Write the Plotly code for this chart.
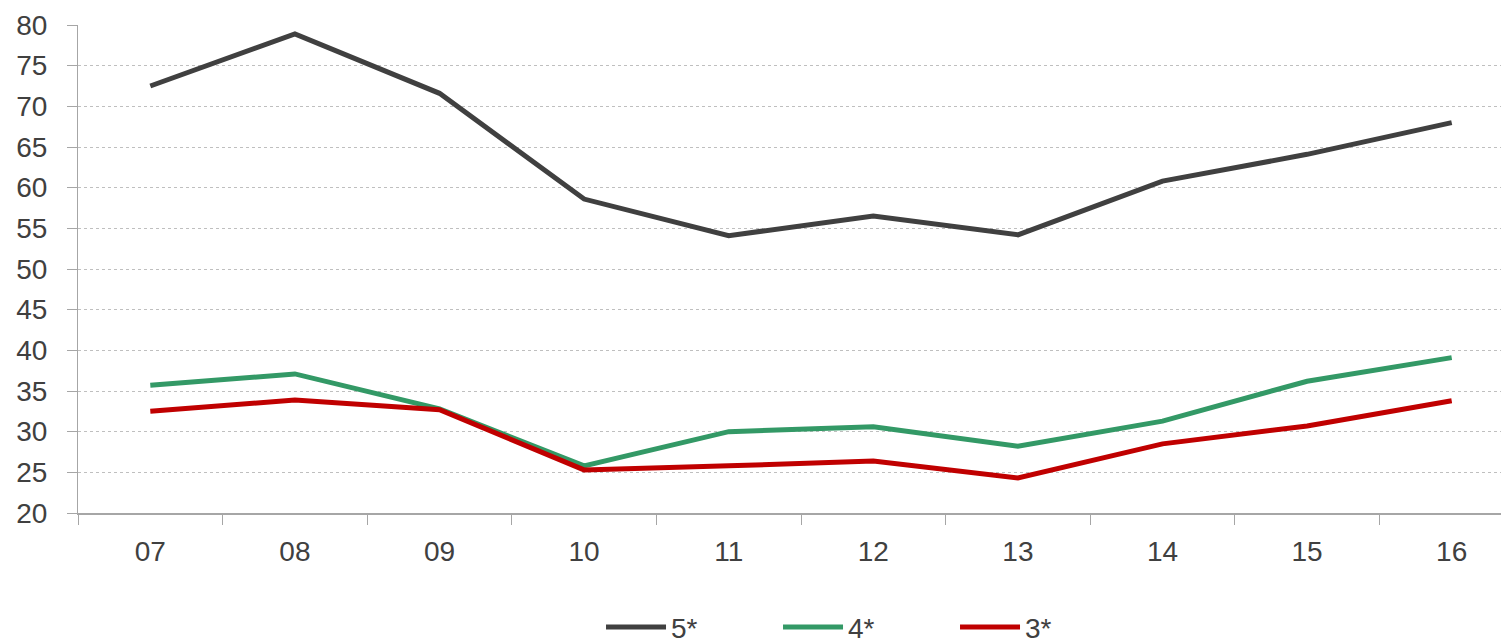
import plotly.graph_objects as go

years = ["07", "08", "09", "10", "11", "12", "13", "14", "15", "16"]
five_star = [72.5, 78.9, 71.6, 58.6, 54.1, 56.5, 54.2, 60.8, 64.1, 68.0]
four_star = [35.7, 37.1, 32.8, 25.8, 30.0, 30.6, 28.2, 31.3, 36.2, 39.1]
three_star = [32.5, 33.9, 32.7, 25.3, 25.8, 26.4, 24.3, 28.5, 30.7, 33.8]

fig = go.Figure()
fig.add_trace(go.Scatter(x=years, y=five_star, mode="lines", name="5*",
                         line=dict(color="#404040", width=5)))
fig.add_trace(go.Scatter(x=years, y=four_star, mode="lines", name="4*",
                         line=dict(color="#339966", width=5)))
fig.add_trace(go.Scatter(x=years, y=three_star, mode="lines", name="3*",
                         line=dict(color="#c00000", width=5)))

# page has an 8px body margin; the original is cropped on the right and at the
# bottom (legend cut off), so the figure is made a bit bigger than the window
fig.update_layout(
    width=1516, height=660,
    margin=dict(l=70, r=0, t=17, b=155),
    paper_bgcolor="white", plot_bgcolor="white",
    font=dict(family="Liberation Sans, Arial", size=28, color="#404040"),
    showlegend=True,
    legend=dict(orientation="h", x=0.3617, xanchor="left", y=-0.234, yanchor="middle",
                font=dict(size=28, color="#404040"), entrywidth=102, itemwidth=60),
)
fig.update_xaxes(
    type="category", showline=True, linecolor="#a6a6a6", linewidth=2,
    ticks="outside", tickson="boundaries", ticklen=10, tickcolor="#a6a6a6", tickwidth=1,
    showgrid=False, range=[-0.5, 9.5], automargin=False,
    ticklabelstandoff=12,
)
fig.update_yaxes(
    range=[20, 80], dtick=5, showline=True, linecolor="#a6a6a6", linewidth=1,
    ticks="outside", ticklen=10, tickcolor="#a6a6a6",
    showgrid=True, gridcolor="#bfbfbf", griddash="dot", gridwidth=1,
    zeroline=False, automargin=False, ticklabelstandoff=14,
)

fig.write_html("out.html")
